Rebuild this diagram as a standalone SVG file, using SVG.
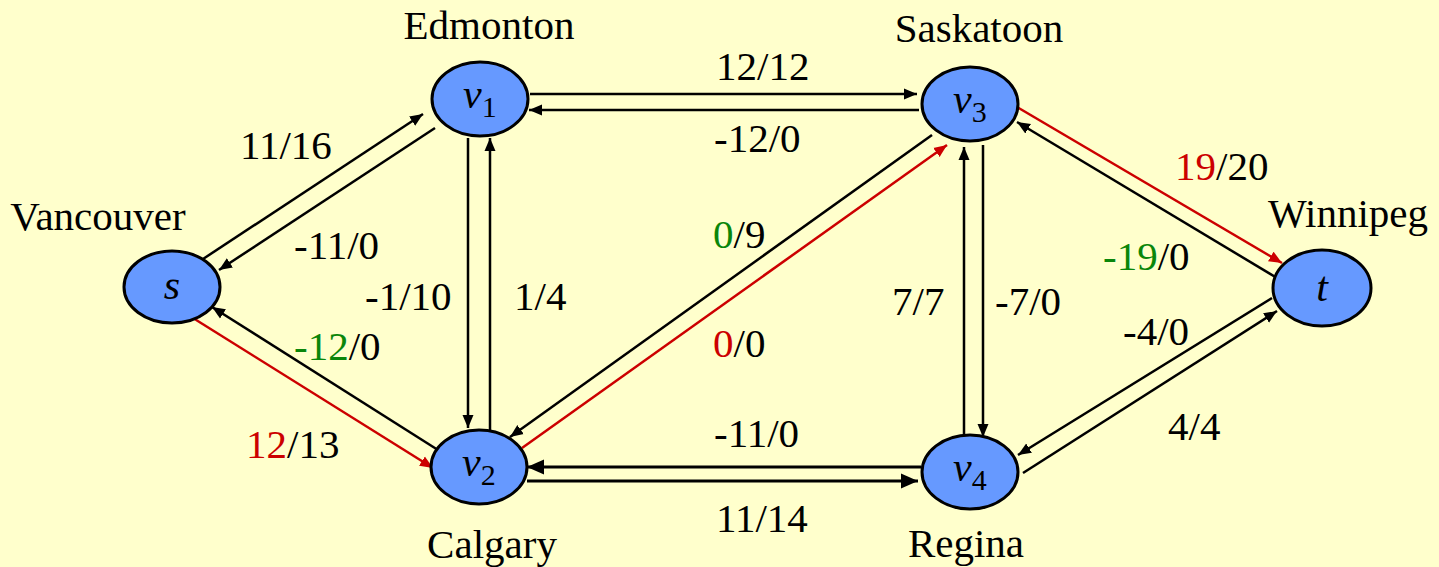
<svg xmlns="http://www.w3.org/2000/svg" width="1439" height="567" viewBox="0 0 1439 567" font-family="'Liberation Serif', Tinos, 'Times New Roman', Times, 'DejaVu Serif', serif">
<style>
  .bg { fill: #FFFFCC; }
  .node { fill: #6699FF; stroke: #000; stroke-width: 3; }
  .e { stroke: #000; stroke-width: 2.5; fill: none; marker-end: url(#ab); }
  .r { stroke: #CC0000; stroke-width: 2.5; fill: none; marker-end: url(#ar); }
  .eb { stroke: #000; stroke-width: 3; fill: none; marker-end: url(#abb); }
  text { font-family: 'Liberation Serif', Tinos, 'Times New Roman', Times, 'DejaVu Serif', serif; font-size: 41px; fill: #000; }
  .nl { font-style: italic; font-size: 42px; }
  .sub { font-style: normal; font-size: 30px; }
  .red { fill: #CC0000; }
  .grn { fill: #0A860A; }
</style>
<defs>
  <marker id="ab" markerUnits="userSpaceOnUse" markerWidth="14" markerHeight="12" refX="13" refY="6" orient="auto">
    <path d="M0,0.5 L13,6 L0,11.5 z" fill="#000"/>
  </marker>
  <marker id="ar" markerUnits="userSpaceOnUse" markerWidth="14" markerHeight="12" refX="13" refY="6" orient="auto">
    <path d="M0,0.5 L13,6 L0,11.5 z" fill="#CC0000"/>
  </marker>
  <marker id="abb" markerUnits="userSpaceOnUse" markerWidth="18" markerHeight="16" refX="17" refY="8" orient="auto">
    <path d="M0,0.5 L17,8 L0,15.5 z" fill="#000"/>
  </marker>
</defs>
<rect class="bg" x="0" y="0" width="1439" height="567"/>

<g id="connectors">
  <line class="e" x1="203" y1="259" x2="423" y2="114"/>
  <line class="e" x1="435" y1="128" x2="219" y2="270"/>
  <line class="e" x1="438" y1="450" x2="212" y2="307"/>
  <line class="r" x1="193" y1="318" x2="433" y2="468"/>
  <line class="e" x1="530" y1="94" x2="917" y2="94"/>
  <line class="e" x1="919" y1="110" x2="529" y2="110"/>
  <line class="e" x1="468" y1="138" x2="468" y2="428"/>
  <line class="e" x1="490" y1="430" x2="490" y2="138"/>
  <line class="e" x1="932" y1="135" x2="510" y2="437"/>
  <line class="r" x1="522" y1="448" x2="947" y2="145"/>
  <line class="e" x1="964" y1="435" x2="964" y2="147"/>
  <line class="e" x1="983" y1="145" x2="983" y2="437"/>
  <line class="eb" x1="921" y1="467" x2="527" y2="467"/>
  <line class="eb" x1="527" y1="481" x2="918" y2="481"/>
  <line class="r" x1="1017" y1="107" x2="1282" y2="263"/>
  <line class="e" x1="1277" y1="278" x2="1017" y2="122"/>
  <line class="e" x1="1272" y1="298" x2="1018" y2="455"/>
  <line class="e" x1="1023" y1="473" x2="1277" y2="311"/>
</g>

<g id="edge-labels">
  <text x="240" y="159">11/16</text>
  <text x="294" y="259">-11/0</text>
  <text x="294" y="360"><tspan class="grn">-12</tspan>/0</text>
  <text x="246" y="458"><tspan class="red">12</tspan>/13</text>
  <text x="716" y="80">12/12</text>
  <text x="714" y="152">-12/0</text>
  <text x="365" y="310">-1/10</text>
  <text x="514" y="310">1/4</text>
  <text x="713" y="248"><tspan class="grn">0</tspan>/9</text>
  <text x="713" y="357"><tspan class="red">0</tspan>/0</text>
  <text x="892" y="315">7/7</text>
  <text x="995" y="315">-7/0</text>
  <text x="714" y="447">-11/0</text>
  <text x="716" y="532">11/14</text>
  <text x="1175" y="180"><tspan class="red">19</tspan>/20</text>
  <text x="1103" y="270"><tspan class="grn">-19</tspan>/0</text>
  <text x="1123" y="345">-4/0</text>
  <text x="1168" y="440">4/4</text>
</g>

<g id="node-s">
  <ellipse class="node" cx="172" cy="287" rx="48" ry="36"/>
  <text class="nl" x="172" y="299" text-anchor="middle">s</text>
  <text x="98" y="230" text-anchor="middle">Vancouver</text>
</g>
<g id="node-v1">
  <ellipse class="node" cx="480" cy="99" rx="48" ry="37"/>
  <text class="nl" x="463" y="108">v<tspan class="sub" dy="9">1</tspan></text>
  <text x="489" y="39" text-anchor="middle">Edmonton</text>
</g>
<g id="node-v2">
  <ellipse class="node" cx="479" cy="467" rx="48" ry="37"/>
  <text class="nl" x="462" y="476">v<tspan class="sub" dy="9">2</tspan></text>
  <text x="492" y="558" text-anchor="middle">Calgary</text>
</g>
<g id="node-v3">
  <ellipse class="node" cx="970" cy="104" rx="48" ry="37"/>
  <text class="nl" x="953" y="113">v<tspan class="sub" dy="9">3</tspan></text>
  <text x="979" y="42" text-anchor="middle">Saskatoon</text>
</g>
<g id="node-v4">
  <ellipse class="node" cx="970" cy="472" rx="48" ry="37"/>
  <text class="nl" x="953" y="481">v<tspan class="sub" dy="9">4</tspan></text>
  <text x="966" y="557" text-anchor="middle">Regina</text>
</g>
<g id="node-t">
  <ellipse class="node" cx="1322" cy="288" rx="49" ry="38"/>
  <text class="nl" x="1322" y="301" text-anchor="middle">t</text>
  <text x="1348" y="227" text-anchor="middle">Winnipeg</text>
</g>
</svg>
